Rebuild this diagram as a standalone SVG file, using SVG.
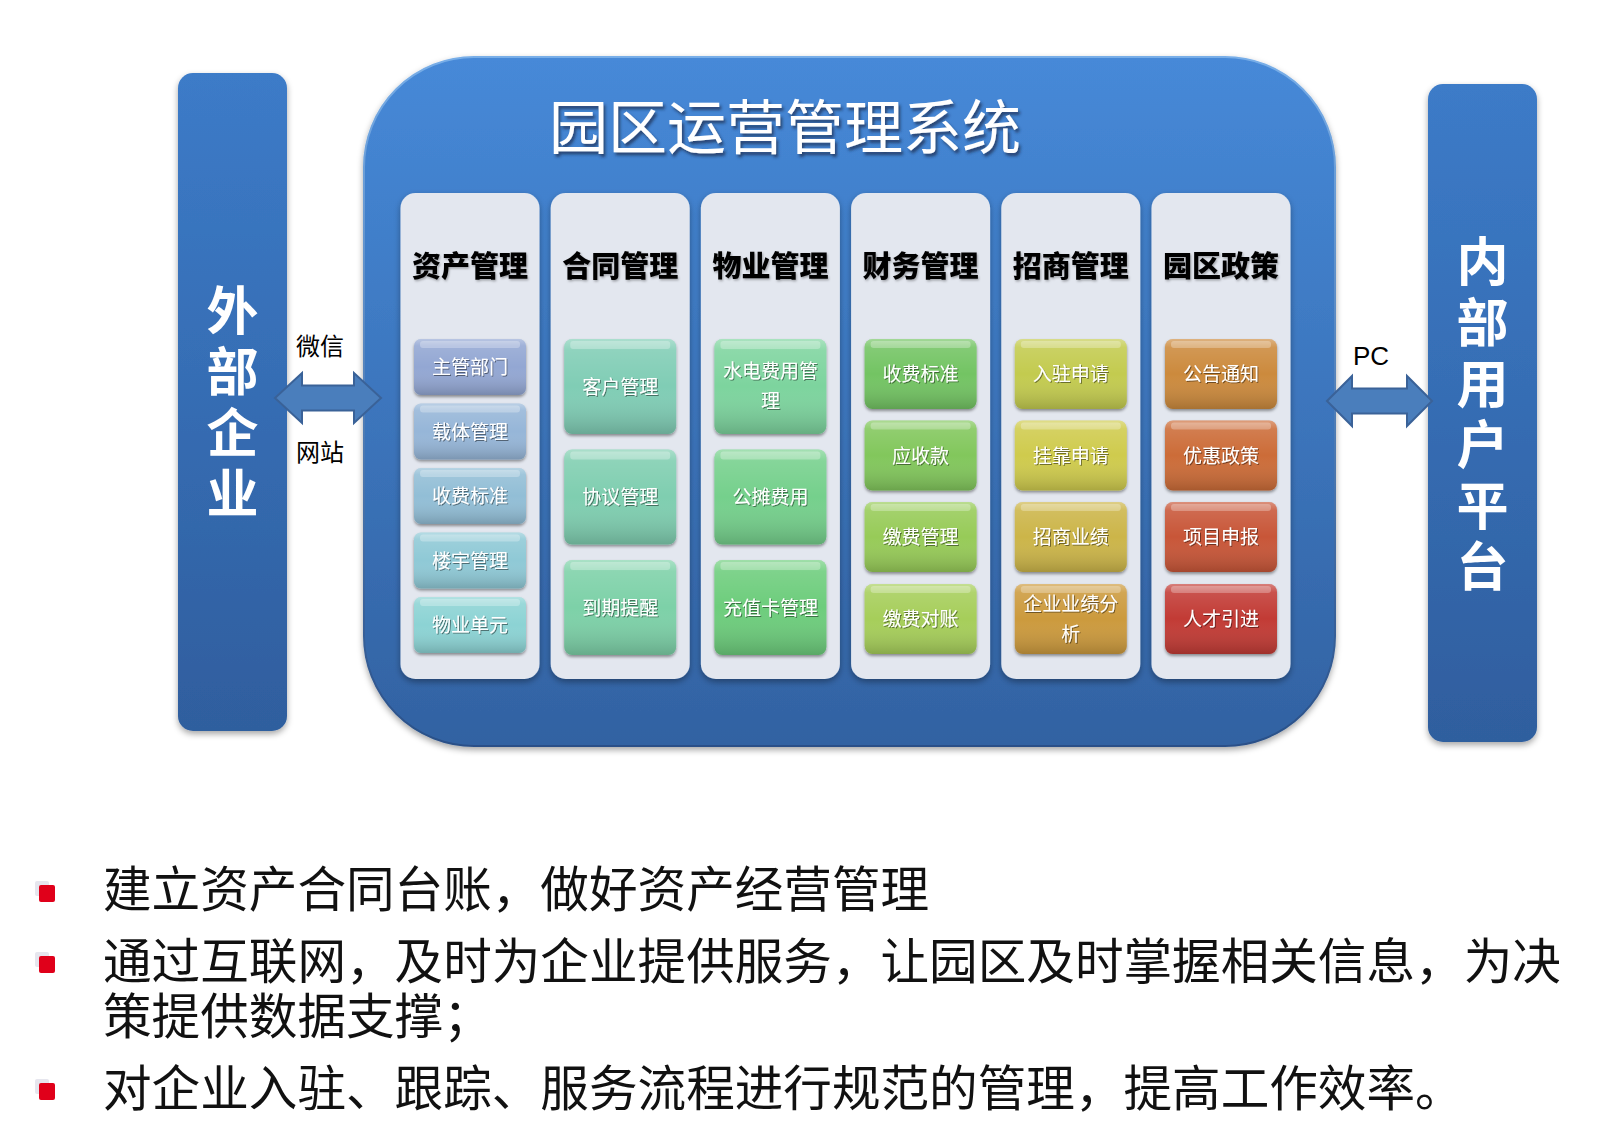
<svg xmlns="http://www.w3.org/2000/svg" width="1620" height="1135" viewBox="0 0 1620 1135">
<defs>
  <linearGradient id="mainFill" x1="0" y1="0" x2="0" y2="1">
    <stop offset="0" stop-color="#4689d8"/>
    <stop offset="1" stop-color="#3262a2"/>
  </linearGradient>
  <linearGradient id="mainStroke" x1="0" y1="0" x2="0" y2="1">
    <stop offset="0" stop-color="#78aee8"/>
    <stop offset="1" stop-color="#2a5088"/>
  </linearGradient>
  <linearGradient id="barFill" x1="0" y1="0" x2="0" y2="1">
    <stop offset="0" stop-color="#3c7bc8"/>
    <stop offset="1" stop-color="#2f5e9e"/>
  </linearGradient>
  <linearGradient id="gloss" x1="0" y1="0" x2="0" y2="1">
    <stop offset="0" stop-color="#ffffff" stop-opacity="0.35"/>
    <stop offset="0.12" stop-color="#ffffff" stop-opacity="0.12"/>
    <stop offset="0.5" stop-color="#ffffff" stop-opacity="0"/>
    <stop offset="1" stop-color="#000000" stop-opacity="0.18"/>
  </linearGradient>
  <filter id="shadow" x="-10%" y="-10%" width="120%" height="125%">
    <feDropShadow dx="0" dy="3" stdDeviation="3" flood-color="#000" flood-opacity="0.35"/>
  </filter>
  <filter id="itemShadow" x="-10%" y="-10%" width="120%" height="130%">
    <feDropShadow dx="0" dy="2" stdDeviation="1.5" flood-color="#000" flood-opacity="0.4"/>
  </filter>
  <filter id="titleShadow" x="-5%" y="-20%" width="110%" height="150%">
    <feDropShadow dx="2" dy="3" stdDeviation="1.5" flood-color="#1a2c48" flood-opacity="0.7"/>
  </filter>
  <filter id="txtShadow" x="-5%" y="-20%" width="110%" height="150%">
    <feDropShadow dx="1" dy="1" stdDeviation="0.6" flood-color="#000" flood-opacity="0.45"/>
  </filter>
  <filter id="hdrShadow" x="-5%" y="-20%" width="110%" height="150%">
    <feDropShadow dx="1" dy="1.5" stdDeviation="1" flood-color="#000" flood-opacity="0.3"/>
  </filter>
</defs>
<style>
  text { font-family: "Noto Sans CJK SC", "Noto Sans", sans-serif; }
  .bar { fill: url(#barFill); filter: url(#shadow); }
  .barTxt { fill: #ffffff; font-size: 52px; font-weight: 700; writing-mode: vertical-rl; letter-spacing: 9px; }
  .panel { fill: #e3e7ef; filter: url(#shadow); }
  .hdr { fill: #000000; font-size: 29px; font-weight: 900; text-anchor: middle; filter: url(#hdrShadow); }
  .item rect.base { filter: url(#itemShadow); }
  .gl { fill: url(#gloss); }
  .hl { fill: #ffffff; fill-opacity: 0.28; }
  .itxt { fill: #ffffff; font-size: 19px; text-anchor: middle; filter: url(#txtShadow); }
  .arrow { fill: #4a7ebc; stroke: #3a6298; stroke-width: 2; }
  .lbl { fill: #000000; font-size: 24px; }
  .bul { fill: #111111; font-size: 48.6px; }
</style>

<g id="external">
  <rect class="bar" x="178" y="73" width="109" height="658" rx="15"/>
  <text class="barTxt" x="232.5" y="284">外部企业</text>
</g>

<g id="internal">
  <rect class="bar" x="1428" y="84" width="109" height="658" rx="15"/>
  <text class="barTxt" x="1482.5" y="235.5">内部用户平台</text>
</g>

<g id="system">
  <rect x="364" y="57" width="971" height="689" rx="110" fill="url(#mainFill)" stroke="url(#mainStroke)" stroke-width="2" filter="url(#shadow)"/>
  <text x="785" y="149" fill="#ffffff" font-size="59" text-anchor="middle" filter="url(#titleShadow)" style="font-weight:400">园区运营管理系统</text>
</g>

<g id="col-asset">
  <rect class="panel" x="400.5" y="193" width="139" height="486" rx="15"/>
  <text class="hdr" x="470" y="277">资产管理</text>
  <g class="item"><rect class="base" x="414" y="339" width="112" height="56" rx="7" fill="#93a7d3"/><rect class="gl" x="414" y="339" width="112" height="56" rx="7"/><rect class="hl" x="420" y="341" width="100" height="7" rx="3"/><text class="itxt" x="470" y="374">主管部门</text></g>
  <g class="item"><rect class="base" x="414" y="403.5" width="112" height="56" rx="7" fill="#96b6d8"/><rect class="gl" x="414" y="403.5" width="112" height="56" rx="7"/><rect class="hl" x="420" y="405.5" width="100" height="7" rx="3"/><text class="itxt" x="470" y="438.5">载体管理</text></g>
  <g class="item"><rect class="base" x="414" y="468" width="112" height="56" rx="7" fill="#92bed6"/><rect class="gl" x="414" y="468" width="112" height="56" rx="7"/><rect class="hl" x="420" y="470" width="100" height="7" rx="3"/><text class="itxt" x="470" y="503">收费标准</text></g>
  <g class="item"><rect class="base" x="414" y="532.5" width="112" height="56" rx="7" fill="#8fc9d6"/><rect class="gl" x="414" y="532.5" width="112" height="56" rx="7"/><rect class="hl" x="420" y="534.5" width="100" height="7" rx="3"/><text class="itxt" x="470" y="567.5">楼宇管理</text></g>
  <g class="item"><rect class="base" x="414" y="597" width="112" height="56" rx="7" fill="#8cd3d4"/><rect class="gl" x="414" y="597" width="112" height="56" rx="7"/><rect class="hl" x="420" y="599" width="100" height="7" rx="3"/><text class="itxt" x="470" y="632">物业单元</text></g>
</g>

<g id="col-contract">
  <rect class="panel" x="550.7" y="193" width="139" height="486" rx="15"/>
  <text class="hdr" x="620.2" y="277">合同管理</text>
  <g class="item"><rect class="base" x="564.2" y="339" width="112" height="95" rx="8" fill="#80cdb5"/><rect class="gl" x="564.2" y="339" width="112" height="95" rx="8"/><rect class="hl" x="570.2" y="341" width="100" height="8" rx="3"/><text class="itxt" x="620.2" y="393.5">客户管理</text></g>
  <g class="item"><rect class="base" x="564.2" y="449.5" width="112" height="95" rx="8" fill="#7fceb0"/><rect class="gl" x="564.2" y="449.5" width="112" height="95" rx="8"/><rect class="hl" x="570.2" y="451.5" width="100" height="8" rx="3"/><text class="itxt" x="620.2" y="504">协议管理</text></g>
  <g class="item"><rect class="base" x="564.2" y="560" width="112" height="95" rx="8" fill="#7dd1a8"/><rect class="gl" x="564.2" y="560" width="112" height="95" rx="8"/><rect class="hl" x="570.2" y="562" width="100" height="8" rx="3"/><text class="itxt" x="620.2" y="614.5">到期提醒</text></g>
</g>

<g id="col-property">
  <rect class="panel" x="700.9" y="193" width="139" height="486" rx="15"/>
  <text class="hdr" x="770.4" y="277">物业管理</text>
  <g class="item"><rect class="base" x="714.4" y="339" width="112" height="95" rx="8" fill="#7dd49e"/><rect class="gl" x="714.4" y="339" width="112" height="95" rx="8"/><rect class="hl" x="720.4" y="341" width="100" height="8" rx="3"/><text class="itxt" x="770.4" y="378"><tspan x="770.4">水电费用管</tspan><tspan x="770.4" dy="30">理</tspan></text></g>
  <g class="item"><rect class="base" x="714.4" y="449.5" width="112" height="95" rx="8" fill="#74d08c"/><rect class="gl" x="714.4" y="449.5" width="112" height="95" rx="8"/><rect class="hl" x="720.4" y="451.5" width="100" height="8" rx="3"/><text class="itxt" x="770.4" y="504">公摊费用</text></g>
  <g class="item"><rect class="base" x="714.4" y="560" width="112" height="95" rx="8" fill="#6dcd7c"/><rect class="gl" x="714.4" y="560" width="112" height="95" rx="8"/><rect class="hl" x="720.4" y="562" width="100" height="8" rx="3"/><text class="itxt" x="770.4" y="614.5">充值卡管理</text></g>
</g>

<g id="col-finance">
  <rect class="panel" x="851.1" y="193" width="139" height="486" rx="15"/>
  <text class="hdr" x="920.6" y="277">财务管理</text>
  <g class="item"><rect class="base" x="864.6" y="339" width="112" height="70" rx="8" fill="#73c464"/><rect class="gl" x="864.6" y="339" width="112" height="70" rx="8"/><rect class="hl" x="870.6" y="341" width="100" height="7" rx="3"/><text class="itxt" x="920.6" y="381">收费标准</text></g>
  <g class="item"><rect class="base" x="864.6" y="420.5" width="112" height="70" rx="8" fill="#82c75c"/><rect class="gl" x="864.6" y="420.5" width="112" height="70" rx="8"/><rect class="hl" x="870.6" y="422.5" width="100" height="7" rx="3"/><text class="itxt" x="920.6" y="462.5">应收款</text></g>
  <g class="item"><rect class="base" x="864.6" y="502" width="112" height="70" rx="8" fill="#97cb58"/><rect class="gl" x="864.6" y="502" width="112" height="70" rx="8"/><rect class="hl" x="870.6" y="504" width="100" height="7" rx="3"/><text class="itxt" x="920.6" y="544">缴费管理</text></g>
  <g class="item"><rect class="base" x="864.6" y="584" width="112" height="70" rx="8" fill="#a6ce5a"/><rect class="gl" x="864.6" y="584" width="112" height="70" rx="8"/><rect class="hl" x="870.6" y="586" width="100" height="7" rx="3"/><text class="itxt" x="920.6" y="626">缴费对账</text></g>
</g>

<g id="col-invest">
  <rect class="panel" x="1001.3" y="193" width="139" height="486" rx="15"/>
  <text class="hdr" x="1070.8" y="277">招商管理</text>
  <g class="item"><rect class="base" x="1014.8" y="339" width="112" height="70" rx="8" fill="#c3cb50"/><rect class="gl" x="1014.8" y="339" width="112" height="70" rx="8"/><rect class="hl" x="1020.8" y="341" width="100" height="7" rx="3"/><text class="itxt" x="1070.8" y="381">入驻申请</text></g>
  <g class="item"><rect class="base" x="1014.8" y="420.5" width="112" height="70" rx="8" fill="#cfcb4e"/><rect class="gl" x="1014.8" y="420.5" width="112" height="70" rx="8"/><rect class="hl" x="1020.8" y="422.5" width="100" height="7" rx="3"/><text class="itxt" x="1070.8" y="462.5">挂靠申请</text></g>
  <g class="item"><rect class="base" x="1014.8" y="502" width="112" height="70" rx="8" fill="#ccb54a"/><rect class="gl" x="1014.8" y="502" width="112" height="70" rx="8"/><rect class="hl" x="1020.8" y="504" width="100" height="7" rx="3"/><text class="itxt" x="1070.8" y="544">招商业绩</text></g>
  <g class="item"><rect class="base" x="1014.8" y="584" width="112" height="70" rx="8" fill="#cc9a3e"/><rect class="gl" x="1014.8" y="584" width="112" height="70" rx="8"/><rect class="hl" x="1020.8" y="586" width="100" height="7" rx="3"/><text class="itxt" x="1070.8" y="611"><tspan x="1070.8">企业业绩分</tspan><tspan x="1070.8" dy="30">析</tspan></text></g>
</g>

<g id="col-policy">
  <rect class="panel" x="1151.5" y="193" width="139" height="486" rx="15"/>
  <text class="hdr" x="1221" y="277">园区政策</text>
  <g class="item"><rect class="base" x="1165" y="339" width="112" height="70" rx="8" fill="#cc8a3e"/><rect class="gl" x="1165" y="339" width="112" height="70" rx="8"/><rect class="hl" x="1171" y="341" width="100" height="7" rx="3"/><text class="itxt" x="1221" y="381">公告通知</text></g>
  <g class="item"><rect class="base" x="1165" y="420.5" width="112" height="70" rx="8" fill="#cc6c38"/><rect class="gl" x="1165" y="420.5" width="112" height="70" rx="8"/><rect class="hl" x="1171" y="422.5" width="100" height="7" rx="3"/><text class="itxt" x="1221" y="462.5">优惠政策</text></g>
  <g class="item"><rect class="base" x="1165" y="502" width="112" height="70" rx="8" fill="#c85638"/><rect class="gl" x="1165" y="502" width="112" height="70" rx="8"/><rect class="hl" x="1171" y="504" width="100" height="7" rx="3"/><text class="itxt" x="1221" y="544">项目申报</text></g>
  <g class="item"><rect class="base" x="1165" y="584" width="112" height="70" rx="8" fill="#c23a34"/><rect class="gl" x="1165" y="584" width="112" height="70" rx="8"/><rect class="hl" x="1171" y="586" width="100" height="7" rx="3"/><text class="itxt" x="1221" y="626">人才引进</text></g>
</g>

<g id="connectors">
  <path class="arrow" d="M275,398 L302,373 L302,385.5 L354,385.5 L354,373 L381,398 L354,423 L354,410.5 L302,410.5 L302,423 Z"/>
  <text class="lbl" x="296" y="355">微信</text>
  <text class="lbl" x="296" y="461">网站</text>
  <path class="arrow" d="M1327,401 L1352,376 L1352,388.5 L1407,388.5 L1407,376 L1432,401 L1407,426 L1407,413.5 L1352,413.5 L1352,426 Z"/>
  <text x="1353" y="365" font-size="26" style="font-family:'Liberation Sans',Arial,sans-serif" fill="#000">PC</text>
</g>

<g id="bullets">
  <rect x="35" y="881" width="14" height="15" rx="2" fill="#e6e6ee"/>
  <rect x="39" y="885" width="16" height="17" rx="2" fill="#e0001a"/>
  <text class="bul" x="103" y="907">建立资产合同台账，做好资产经营管理</text>
  <rect x="35" y="952" width="14" height="15" rx="2" fill="#e6e6ee"/>
  <rect x="39" y="956" width="16" height="17" rx="2" fill="#e0001a"/>
  <text class="bul" x="103" y="979"><tspan x="103">通过互联网，及时为企业提供服务，让园区及时掌握相关信息，为决</tspan><tspan x="103" dy="55">策提供数据支撑；</tspan></text>
  <rect x="35" y="1079" width="14" height="15" rx="2" fill="#e6e6ee"/>
  <rect x="39" y="1083" width="16" height="17" rx="2" fill="#e0001a"/>
  <text class="bul" x="103" y="1106">对企业入驻、跟踪、服务流程进行规范的管理，提高工作效率。</text>
</g>
</svg>
